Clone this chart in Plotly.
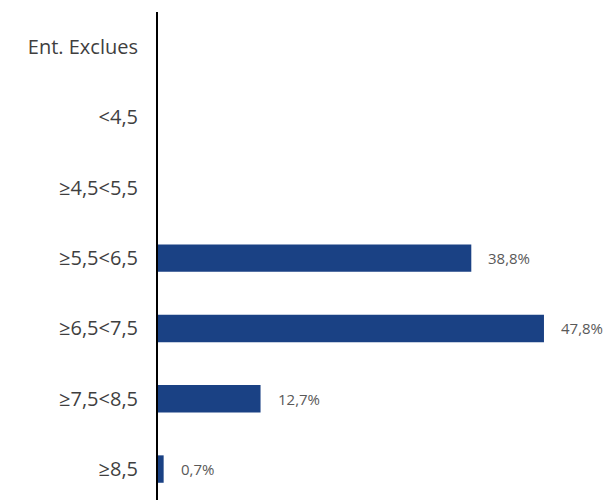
import plotly.graph_objects as go

categories = ["Ent. Exclues", "<4,5", "≥4,5<5,5", "≥5,5<6,5", "≥6,5<7,5", "≥7,5<8,5", "≥8,5"]
values = [0, 0, 0, 38.8, 47.8, 12.7, 0.7]
value_labels = ["", "", "", "38,8%", "47,8%", "12,7%", "0,7%"]

BAR_COLOR = "#1a4184"
FONT = "Open Sans"

fig = go.Figure()
fig.add_trace(go.Bar(
    x=values,
    y=categories,
    orientation="h",
    marker=dict(color=BAR_COLOR, line=dict(width=0)),
    width=0.39,
    hoverinfo="skip",
))

# value labels placed just right of each non-empty bar
for cat, v, lab in zip(categories, values, value_labels):
    if lab:
        fig.add_annotation(
            x=v, y=cat, text=lab, showarrow=False,
            xanchor="left", yanchor="middle", xshift=15,
            font=dict(family=FONT, size=15, color="#595959"),
        )

fig.update_layout(
    width=608, height=500,
    margin=dict(l=158, r=0, t=12, b=0),
    paper_bgcolor="white", plot_bgcolor="white",
    showlegend=False,
    xaxis=dict(range=[0, 55.73], visible=False, fixedrange=True),
    yaxis=dict(
        categoryorder="array", categoryarray=categories,
        range=[6.44, -0.5],
        showline=True, linecolor="black", linewidth=2,
        showgrid=False, zeroline=False,
        ticks="", ticklabelstandoff=14,
        tickfont=dict(family=FONT, size=20, color="#3f3f3f"),
        fixedrange=True,
    ),
)

fig.write_html("out.html")
